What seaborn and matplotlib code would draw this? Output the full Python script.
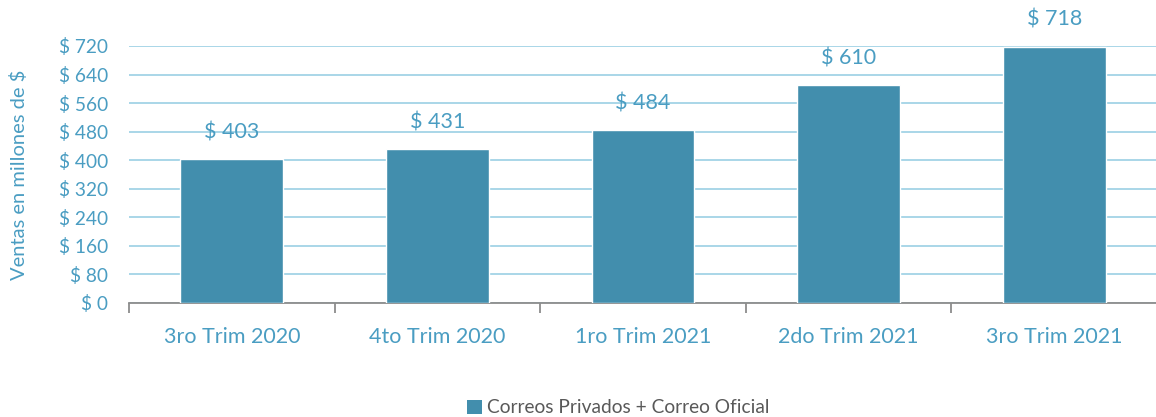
import matplotlib
matplotlib.use("Agg")
import matplotlib.pyplot as plt
import seaborn as sns
import pandas as pd
from matplotlib.patches import Patch

categories = ["3ro Trim 2020", "4to Trim 2020", "1ro Trim 2021", "2do Trim 2021", "3ro Trim 2021"]
values = [403, 431, 484, 610, 718]
yticks = [0, 80, 160, 240, 320, 400, 480, 560, 640, 720]
series_name = "Correos Privados + Correo Oficial"
ylabel = "Ventas en millones de $"

BAR = "#428EAD"
TXT = "#4A9DC2"
GRID = "#A3D3E6"

sns.set_theme(style="white")
plt.rcParams['font.family'] = ['Lato', 'DejaVu Sans']

df = pd.DataFrame({"cat": categories, "val": values})

fig = plt.figure(figsize=(11.56, 4.17), dpi=100)
ax = fig.add_axes([0.1116, 0.2734, 0.8893, 0.6163])
sns.barplot(data=df, x="cat", y="val", color=BAR, width=0.50, saturation=1, ax=ax, zorder=3)

ax.set_ylim(0, 720)
ax.set_xlim(-0.5, len(categories) - 0.5)
ax.set_yticks(yticks)
ax.set_yticklabels([f"$ {v}" for v in yticks], color=TXT, fontsize=13.8)
ax.yaxis.grid(True, color=GRID, linewidth=1.3, zorder=0)
ax.set_axisbelow(True)
ax.tick_params(axis="y", length=0, pad=15)
ax.tick_params(axis="x", length=0, pad=17, labelsize=15.5, labelcolor=TXT)
ax.set_xlabel("")
ax.set_ylabel(ylabel, color=TXT, fontsize=14.5, labelpad=22)

for s in ["top", "right", "left"]:
    ax.spines[s].set_visible(False)
ax.spines["bottom"].set_color("#8C8C8C")
ax.spines["bottom"].set_linewidth(1.3)

# minor ticks at category boundaries
ax.set_xticks([i - 0.5 for i in range(len(categories) + 1)], minor=True)
ax.tick_params(axis="x", which="minor", length=7, width=1.3, color="#8C8C8C", bottom=True)

for p, v in zip(ax.patches, values):
    ax.text(p.get_x() + p.get_width() / 2, v + 75, f"$ {v}", ha="center", va="center",
            color=TXT, fontsize=15.5, clip_on=False)

handle = Patch(facecolor=BAR, edgecolor="none")
fig.legend([handle], [series_name], loc="center", bbox_to_anchor=(0.535, 0.022),
           frameon=False, fontsize=13.8, labelcolor="#595959", handlelength=0.75,
           handleheight=0.75, handletextpad=0.3)

fig.savefig("out.png", dpi=100)
